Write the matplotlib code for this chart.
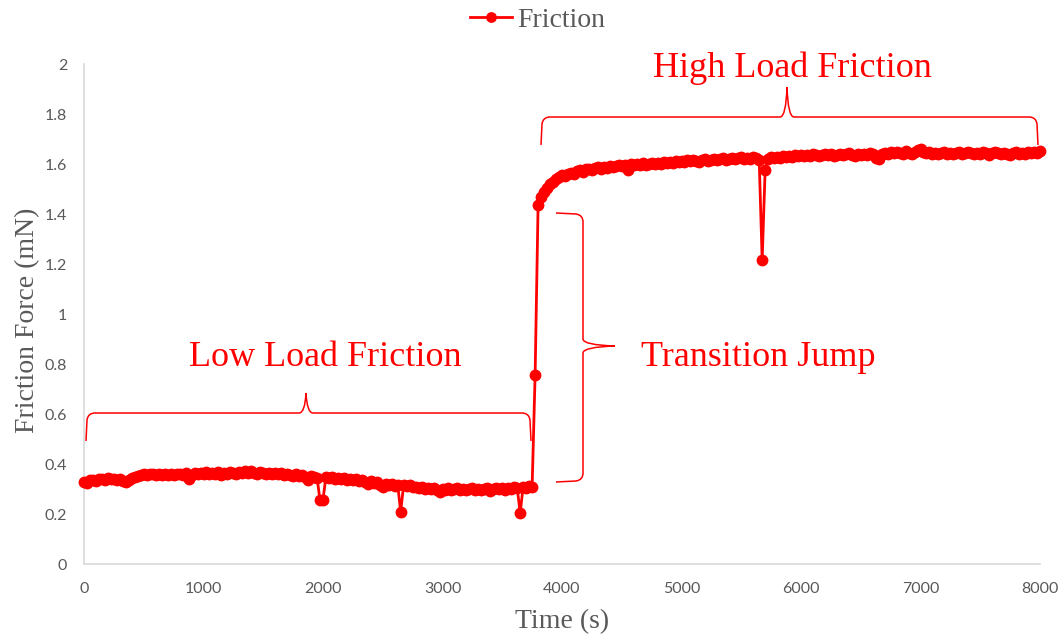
import numpy as np
import matplotlib
matplotlib.use("Agg")
import matplotlib.pyplot as plt
from matplotlib.path import Path
from matplotlib.patches import PathPatch

# Friction force (mN), sampled every 25 s, grouped per 1000 s block
friction_0000 = [0.330, 0.325, 0.335, 0.338, 0.332, 0.340, 0.342, 0.338, 0.344, 0.340,
                 0.342, 0.338, 0.340, 0.333, 0.330, 0.336, 0.345, 0.350, 0.352, 0.356,
                 0.360, 0.358, 0.362, 0.360, 0.356, 0.362, 0.358, 0.360, 0.355, 0.362,
                 0.358, 0.360, 0.362, 0.356, 0.364, 0.340, 0.358, 0.365, 0.360, 0.366]
friction_1000 = [0.362, 0.368, 0.360, 0.366, 0.362, 0.368, 0.358, 0.366, 0.362, 0.370,
                 0.364, 0.360, 0.368, 0.364, 0.372, 0.366, 0.374, 0.366, 0.362, 0.368,
                 0.364, 0.360, 0.366, 0.362, 0.366, 0.360, 0.364, 0.356, 0.362, 0.358,
                 0.354, 0.360, 0.352, 0.356, 0.348, 0.338, 0.352, 0.350, 0.346, 0.255]
friction_2000 = [0.258, 0.350, 0.344, 0.348, 0.342, 0.346, 0.340, 0.344, 0.338, 0.342,
                 0.336, 0.340, 0.332, 0.336, 0.330, 0.322, 0.334, 0.326, 0.330, 0.318,
                 0.310, 0.322, 0.316, 0.320, 0.314, 0.318, 0.208, 0.318, 0.312, 0.316,
                 0.308, 0.310, 0.306, 0.308, 0.302, 0.306, 0.300, 0.304, 0.298, 0.290]
friction_3000 = [0.302, 0.298, 0.304, 0.296, 0.300, 0.304, 0.298, 0.302, 0.296, 0.300,
                 0.304, 0.298, 0.302, 0.296, 0.300, 0.304, 0.292, 0.302, 0.306, 0.300,
                 0.304, 0.298, 0.306, 0.302, 0.308, 0.304, 0.204, 0.310, 0.306, 0.312,
                 0.310, 0.755, 1.436, 1.468, 1.490, 1.505, 1.520, 1.530, 1.540, 1.548]
friction_4000 = [1.556, 1.552, 1.562, 1.566, 1.562, 1.572, 1.576, 1.570, 1.580, 1.582,
                 1.576, 1.584, 1.588, 1.582, 1.590, 1.586, 1.592, 1.588, 1.594, 1.598,
                 1.592, 1.598, 1.578, 1.600, 1.596, 1.602, 1.598, 1.604, 1.598, 1.602,
                 1.606, 1.600, 1.606, 1.602, 1.608, 1.604, 1.610, 1.604, 1.612, 1.608]
friction_5000 = [1.614, 1.610, 1.616, 1.612, 1.618, 1.612, 1.608, 1.616, 1.620, 1.614,
                 1.618, 1.622, 1.616, 1.620, 1.624, 1.618, 1.622, 1.626, 1.620, 1.624,
                 1.628, 1.622, 1.626, 1.620, 1.628, 1.624, 1.618, 1.216, 1.578, 1.622,
                 1.628, 1.624, 1.630, 1.626, 1.632, 1.628, 1.634, 1.630, 1.636, 1.632]
friction_6000 = [1.636, 1.632, 1.638, 1.634, 1.640, 1.636, 1.632, 1.638, 1.642, 1.636,
                 1.640, 1.634, 1.638, 1.642, 1.636, 1.640, 1.644, 1.638, 1.634, 1.640,
                 1.636, 1.642, 1.638, 1.644, 1.640, 1.626, 1.622, 1.640, 1.646, 1.642,
                 1.648, 1.644, 1.650, 1.646, 1.640, 1.652, 1.646, 1.642, 1.650, 1.656]
friction_7000 = [1.660, 1.650, 1.644, 1.648, 1.642, 1.646, 1.640, 1.644, 1.648, 1.642,
                 1.646, 1.640, 1.644, 1.648, 1.642, 1.646, 1.650, 1.644, 1.640, 1.646,
                 1.642, 1.648, 1.644, 1.638, 1.646, 1.650, 1.644, 1.640, 1.646, 1.642,
                 1.636, 1.644, 1.648, 1.642, 1.646, 1.640, 1.648, 1.644, 1.650, 1.646,
                 1.652]

sample_step_s = 25
x_ticks = [0, 1000, 2000, 3000, 4000, 5000, 6000, 7000, 8000]
y_ticks = [0, 0.2, 0.4, 0.6, 0.8, 1.0, 1.2, 1.4, 1.6, 1.8, 2.0]

friction = np.array(friction_0000 + friction_1000 + friction_2000 + friction_3000 +
                    friction_4000 + friction_5000 + friction_6000 + friction_7000)
time_s = np.arange(len(friction)) * sample_step_s

RED = "#FF0000"
GREY = "#595959"
SERIF = "Liberation Serif"
SANS = "Lato"

W, H = 1062, 637
fig = plt.figure(figsize=(W / 100, H / 100), dpi=100)
ax = fig.add_axes([84 / W, 1 - 564 / H, (1040 - 84) / W, 500 / H])

ax.plot(time_s, friction, color=RED, lw=2.0, marker="o", ms=7.5,
        mfc=RED, mec=RED, clip_on=False, zorder=3, label="Friction")

ax.set_xlim(0, 8000)
ax.set_ylim(0, 2)
ax.set_xticks(x_ticks)
ax.set_yticks(y_ticks)
ax.set_xticklabels([f"{v:g}" for v in x_ticks])
ax.set_yticklabels([f"{v:g}" for v in y_ticks])
for lab in ax.get_xticklabels() + ax.get_yticklabels():
    lab.set_fontfamily(SANS)
    lab.set_fontsize(11.5)
    lab.set_color(GREY)
ax.tick_params(axis="both", length=0)
ax.tick_params(axis="y", pad=12)
ax.tick_params(axis="x", pad=13)

for side in ("top", "right"):
    ax.spines[side].set_visible(False)
for side in ("left", "bottom"):
    ax.spines[side].set_color("#D9D9D9")
    ax.spines[side].set_linewidth(1.2)

# Axis titles
fig.text(562 / W, 1 - 622 / H, "Time (s)", ha="center", va="center",
         family=SERIF, fontsize=20, color=GREY)
fig.text(28 / W, 1 - 320 / H, "Friction Force (mN)", ha="center", va="center",
         rotation=90, family=SERIF, fontsize=20, color=GREY)

# Legend above the plot
leg = fig.legend(loc="center", bbox_to_anchor=(538 / W, 1 - 20 / H), frameon=False,
                 prop={"family": SERIF, "size": 20}, handlelength=1.5,
                 handletextpad=0.2, numpoints=1, markerscale=0.9)
for t in leg.get_texts():
    t.set_color(GREY)


def px(x, y):
    return (x / W, 1 - y / H)


def brace(u0, u1, vb, ve, um, vt, vertical=False):
    """Curly brace between u0 and u1, bar at vb, legs to ve, tip at (um, vt)."""
    d = 1 if ve > vb else -1
    pts = [(u0, ve), (u0 + 1, vb + 7 * d), (u0 + 2, vb), (u0 + 9, vb),
           (um - 7, vb), (um - 1, vb), (um, vt), (um + 1, vb), (um + 7, vb),
           (u1 - 9, vb), (u1 - 2, vb), (u1 - 1, vb + 7 * d), (u1, ve)]
    codes = [Path.MOVETO, Path.LINETO, Path.CURVE3, Path.CURVE3,
             Path.LINETO, Path.CURVE3, Path.CURVE3, Path.CURVE3, Path.CURVE3,
             Path.LINETO, Path.CURVE3, Path.CURVE3, Path.LINETO]
    if vertical:
        pts = [(v, u) for u, v in pts]
    verts = [px(x, y) for x, y in pts]
    fig.add_artist(PathPatch(Path(verts, codes), transform=fig.transFigure,
                             fill=False, edgecolor=RED, lw=1.1))


brace(86, 531, 413, 441, 306, 393)
brace(541, 1038, 117, 145, 787, 87)
brace(213, 482, 583, 556, 346, 615, vertical=True)

fig.text(*px(325, 357), "Low Load Friction", ha="center", va="center",
         family=SERIF, fontsize=26, color=RED)
fig.text(*px(792, 68), "High Load Friction", ha="center", va="center",
         family=SERIF, fontsize=26, color=RED)
fig.text(*px(641, 357), "Transition Jump", ha="left", va="center",
         family=SERIF, fontsize=26, color=RED)

fig.savefig("out.png", dpi=100, facecolor="white")
